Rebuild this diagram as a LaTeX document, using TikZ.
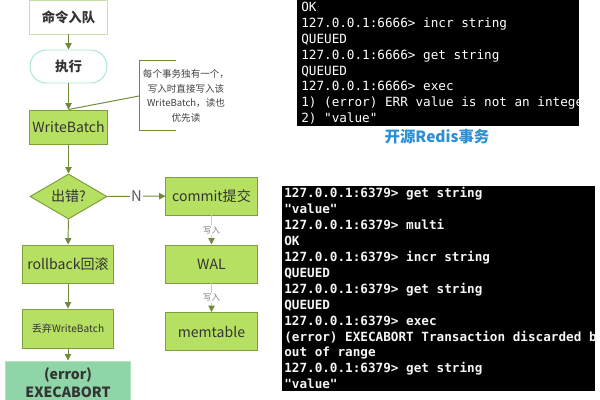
\documentclass[tikz,border=0pt]{standalone}
\usepackage{fontspec}
\usepackage{tikz}
\usetikzlibrary{arrows.meta,shapes.geometric}
\newfontfamily\cjk{Noto Sans CJK SC}
\newfontfamily\mono{DejaVu Sans Mono}
\definecolor{boxfill}{HTML}{B5E061}
\definecolor{boxline}{HTML}{7E9E3E}
\definecolor{arrgreen}{HTML}{6F8A3A}
\definecolor{abortfill}{HTML}{8FD5A8}
\definecolor{abortline}{HTML}{B0E4C0}
\definecolor{enqline}{HTML}{C8E0A8}
\definecolor{exeline}{HTML}{A8E6D0}
\definecolor{capblue}{HTML}{2A8FD6}

\begin{document}
\begin{tikzpicture}[x=0.025cm, y=-0.025cm,
  comp/.style={draw=boxline, fill=boxfill, line width=0.7pt, minimum width=2.275cm, minimum height=0.95cm, inner sep=1pt, text=black!80, font=\cjk\fontsize{10}{12}\selectfont},
  arr/.style={-{Triangle[length=4.5pt,width=4.5pt]}, draw=arrgreen, line width=0.7pt},
  lab/.style={font=\cjk\fontsize{6}{7}\selectfont, text=gray, fill=white, inner sep=1pt},
  termtxt/.style={anchor=base west, inner sep=0pt, font=\mono\fontsize{9}{9}\selectfont}]
  \clip (0,0) rectangle (600,400);
  % flow chart, left part (coordinates in pixels)
  \node[comp, draw=enqline, fill=white, minimum width=1.925cm, minimum height=0.85cm, font=\cjk\bfseries\fontsize{9.5}{11}\selectfont] (enq) at (68.5,17) {命令入队};
  \node[comp, draw=exeline, fill=white, minimum width=1.925cm, minimum height=0.825cm, rounded corners=0.41cm, font=\cjk\bfseries\fontsize{9.5}{11}\selectfont] (exe) at (68.5,66.5) {执行};
  \node[comp, minimum width=1.925cm, minimum height=0.85cm] (wb) at (68.5,127) {WriteBatch};
  \node[comp, diamond, aspect=1.7, inner sep=0pt, minimum width=1.925cm, minimum height=1.125cm] (err) at (68.5,196.5) {出错?};
  \node[comp] (cmt) at (211.5,196) {commit提交};
  \node[comp] (wal) at (211.5,264) {WAL};
  \node[comp] (mem) at (211.5,331.5) {memtable};
  \node[comp, minimum width=2.25cm] (rb) at (68,264) {rollback回滚};
  \node[comp, minimum width=2.25cm, minimum height=0.975cm, font=\cjk\fontsize{7.2}{9}\selectfont] (drop) at (68,328.5) {丢弃WriteBatch};
  \node[comp, draw=abortline, fill=abortfill, minimum width=3.1cm, minimum height=1.1cm, align=center, font=\cjk\bfseries\fontsize{10}{12.8}\selectfont] (abort) at (68,383) {(error)\\EXECABORT};
  % note on the write batch
  \draw[arrgreen, line width=0.7pt] (176,60) -- (139,60) -- (139,130) -- (176,130);
  \coordinate (notept) at (139,96);
  \node[align=center, text=black!75, font=\cjk\fontsize{6.8}{10.3}\selectfont] (note) at (186,96) {每个事务独有一个，\\写入时直接写入该\\WriteBatch，读也\\优先读};
  \draw[arrgreen, line width=0.7pt] (notept) -- (wb.north);
  \draw[arr] (enq) -- (exe);
  \draw[arr] (exe) -- (wb);
  \draw[arr] (wb) -- (err);
  \draw[arr] (err) -- node[lab, text=black!65, font=\cjk\fontsize{10.5}{11}\selectfont]{N} (cmt);
  \draw[arr] (err) -- (rb);
  \draw[arr] (rb) -- (drop);
  \draw[arr] (drop) -- (abort);
  \draw[arr, draw=black!20, -{Triangle[length=4.5pt,width=4.5pt,color=arrgreen]}] (cmt) -- node[lab]{写入} (wal);
  \draw[arr, draw=black!20, -{Triangle[length=4.5pt,width=4.5pt,color=arrgreen]}] (wal) -- node[lab]{写入} (mem);
  % terminal screenshots, right part
  \fill[black] (297,0) rectangle (579,126);
  \fill[black] (282,186) rectangle (595,391);
  \begin{scope}
    \clip (297,0) rectangle (579,126);
    \foreach \txt [count=\i from 0] in {{OK},{127.0.0.1:6666> incr string},{QUEUED},{127.0.0.1:6666> get string},{QUEUED},{127.0.0.1:6666> exec},{1) (error) ERR value is not an intege},{2) "value"}}
      \node[termtxt, text=white] (ta\i) at (301,11.5+15.9*\i) {\txt};
  \end{scope}
  \begin{scope}
    \clip (282,186) rectangle (595,391);
    \foreach \txt [count=\i from 0] in {{127.0.0.1:6379> get string},{"value"},{127.0.0.1:6379> multi},{OK},{127.0.0.1:6379> incr string},{QUEUED},{127.0.0.1:6379> get string},{QUEUED},{127.0.0.1:6379> exec},{(error) EXECABORT Transaction discarded b},{out of range},{127.0.0.1:6379> get string},{"value"}}
      \node[termtxt, text=white!92!gray, font=\mono\bfseries\fontsize{9}{9}\selectfont] (tb\i) at (284,197.5+15.95*\i) {\txt};
  \end{scope}
  \node[text=capblue, font=\cjk\bfseries\fontsize{11}{13}\selectfont] (cap) at (437,137) {开源Redis事务};
\end{tikzpicture}
\end{document}
